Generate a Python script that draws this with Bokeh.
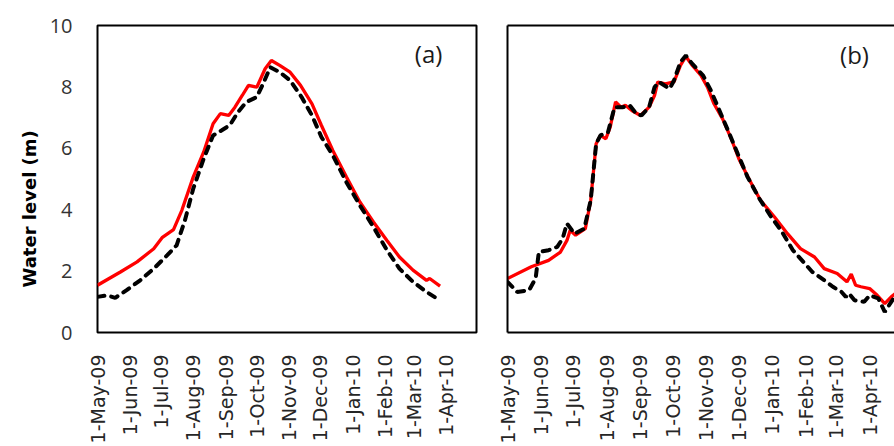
import math
import pandas as pd
from bokeh.plotting import figure
from bokeh.models import Range1d, FixedTicker, LinearAxis, Title, Label
from bokeh.layouts import row
from bokeh.embed import file_html
from bokeh.resources import INLINE

START = "2009-05-01"
END_A = "2010-04-30"

tick_dates = ["2009-05-01", "2009-06-01", "2009-07-01", "2009-08-01", "2009-09-01", "2009-10-01",
              "2009-11-01", "2009-12-01", "2010-01-01", "2010-02-01", "2010-03-01", "2010-04-01"]
tick_labels = ["1-May-09", "1-Jun-09", "1-Jul-09", "1-Aug-09", "1-Sep-09", "1-Oct-09",
               "1-Nov-09", "1-Dec-09", "1-Jan-10", "1-Feb-10", "1-Mar-10", "1-Apr-10"]
y_ticks = [0, 2, 4, 6, 8, 10]

# Panel (a)
a_red_dates = ["2009-05-01", "2009-05-23", "2009-06-08", "2009-06-24", "2009-07-02", "2009-07-13",
               "2009-07-21", "2009-08-01", "2009-08-11", "2009-08-20", "2009-08-27", "2009-09-04",
               "2009-09-10", "2009-09-17", "2009-09-23", "2009-10-01", "2009-10-09", "2009-10-15",
               "2009-10-23", "2009-11-02", "2009-11-12", "2009-11-23", "2009-12-02", "2009-12-13",
               "2009-12-26", "2010-01-08", "2010-01-21", "2010-02-03", "2010-02-15", "2010-02-28",
               "2010-03-13", "2010-03-16", "2010-03-26"]
a_red_level = [1.54, 1.97, 2.30, 2.73, 3.09, 3.35, 3.98, 5.07, 5.88, 6.80, 7.13, 7.07, 7.34, 7.72,
               8.05, 7.99, 8.59, 8.86, 8.70, 8.48, 8.05, 7.45, 6.75, 5.93, 5.07, 4.25, 3.60, 3.00,
               2.46, 2.03, 1.70, 1.76, 1.51]

a_blk_dates = ["2009-05-01", "2009-05-10", "2009-05-18", "2009-05-29", "2009-06-11", "2009-06-24",
               "2009-07-07", "2009-07-16", "2009-07-24", "2009-08-01", "2009-08-11", "2009-08-20",
               "2009-08-28", "2009-09-05", "2009-09-13", "2009-09-21", "2009-10-01", "2009-10-07",
               "2009-10-14", "2009-10-23", "2009-11-02", "2009-11-13", "2009-11-23", "2009-12-02",
               "2009-12-13", "2009-12-26", "2010-01-08", "2010-01-21", "2010-02-03", "2010-02-15",
               "2010-02-28", "2010-03-13", "2010-03-23"]
a_blk_level = [1.16, 1.21, 1.13, 1.38, 1.70, 2.08, 2.52, 2.84, 3.66, 4.69, 5.66, 6.42, 6.58, 6.75,
               7.18, 7.51, 7.67, 8.10, 8.64, 8.48, 8.21, 7.67, 7.07, 6.37, 5.77, 4.90, 4.14, 3.44,
               2.68, 2.08, 1.65, 1.32, 1.11]

# Panel (b)
b_red_dates = ["2009-05-01", "2009-05-23", "2009-06-08", "2009-06-19", "2009-06-25", "2009-06-28",
               "2009-07-03", "2009-07-12", "2009-07-17", "2009-07-22", "2009-07-26", "2009-07-31",
               "2009-08-04", "2009-08-09", "2009-08-14", "2009-08-18", "2009-08-24", "2009-09-01",
               "2009-09-09", "2009-09-14", "2009-09-17", "2009-09-24", "2009-10-02", "2009-10-08",
               "2009-10-13", "2009-10-19", "2009-10-27", "2009-11-02", "2009-11-08", "2009-11-16",
               "2009-11-24", "2009-12-01", "2009-12-11", "2009-12-21", "2010-01-03", "2010-01-15",
               "2010-01-27", "2010-02-09", "2010-02-18", "2010-03-02", "2010-03-11", "2010-03-15",
               "2010-03-19", "2010-03-24", "2010-04-01", "2010-04-08", "2010-04-15", "2010-04-21",
               "2010-04-26"]
b_red_level = [1.76, 2.14, 2.35, 2.62, 3.00, 3.33, 3.17, 3.38, 4.31, 6.15, 6.42, 6.31, 6.69, 7.51,
               7.34, 7.40, 7.23, 7.07, 7.34, 7.72, 8.16, 8.10, 8.16, 8.70, 8.99, 8.70, 8.37, 7.99,
               7.45, 6.96, 6.31, 5.66, 4.96, 4.31, 3.76, 3.22, 2.73, 2.46, 2.08, 1.92, 1.65, 1.90,
               1.54, 1.49, 1.43, 1.21, 0.94, 1.16, 1.30]

b_blk_dates = ["2009-05-01", "2009-05-10", "2009-05-21", "2009-05-27", "2009-05-30", "2009-06-08",
               "2009-06-16", "2009-06-21", "2009-06-25", "2009-07-02", "2009-07-11", "2009-07-17",
               "2009-07-22", "2009-07-26", "2009-08-02", "2009-08-08", "2009-08-16", "2009-08-22",
               "2009-08-28", "2009-09-02", "2009-09-09", "2009-09-14", "2009-09-18", "2009-09-28",
               "2009-10-02", "2009-10-08", "2009-10-13", "2009-10-19", "2009-10-29", "2009-11-05",
               "2009-11-11", "2009-11-21", "2009-11-30", "2009-12-09", "2009-12-20", "2009-12-31",
               "2010-01-09", "2010-01-20", "2010-01-31", "2010-02-07", "2010-02-18", "2010-02-26",
               "2010-03-06", "2010-03-10", "2010-03-13", "2010-03-18", "2010-03-27", "2010-04-01",
               "2010-04-09", "2010-04-15", "2010-04-21", "2010-04-26"]
b_blk_level = [1.65, 1.32, 1.38, 1.76, 2.62, 2.68, 2.79, 3.06, 3.55, 3.22, 3.38, 4.31, 6.15, 6.42,
               6.53, 7.34, 7.34, 7.40, 7.13, 7.07, 7.34, 7.99, 8.16, 7.94, 8.21, 8.81, 9.02, 8.75,
               8.37, 7.89, 7.40, 6.58, 5.82, 5.07, 4.36, 3.76, 3.33, 2.68, 2.25, 1.97, 1.70, 1.49,
               1.32, 1.16, 1.27, 1.05, 1.00, 1.21, 1.11, 0.67, 1.00, 1.25]


def days(ds):
    return [int(v) for v in (pd.to_datetime(ds) - pd.Timestamp(START)).days]


tick_days = days(tick_dates)
overrides = {d: lab for d, lab in zip(tick_days, tick_labels)}
xend_a = days([END_A])[0]
xend_b = 358

RED = "#ff0000"
TXT = "#333333"


def style_xaxis(ax):
    ax.ticker = FixedTicker(ticks=tick_days)
    ax.major_label_overrides = overrides
    ax.major_label_orientation = math.pi / 2
    ax.major_label_text_font = "DejaVu Sans"
    ax.major_label_text_font_size = "19px"
    ax.major_label_text_color = "#262626"
    ax.major_label_standoff = 16
    ax.major_tick_line_color = None
    ax.minor_tick_line_color = None


def base(width, left, right):
    p = figure(width=width, height=446, x_range=Range1d(0, xend_a), y_range=Range1d(0, 10),
               output_backend="svg", toolbar_location=None,
               min_border_left=left, min_border_right=right, min_border_top=25, min_border_bottom=114)
    p.xgrid.visible = False
    p.ygrid.visible = False
    p.background_fill_color = "white"
    p.border_fill_color = "white"
    return p


# ---- panel (a)
p1 = base(490, 97, 14)
style_xaxis(p1.xaxis[0])
p1.xaxis.axis_line_color = None
p1.yaxis.ticker = FixedTicker(ticks=y_ticks)
p1.yaxis.axis_line_color = None
p1.yaxis.major_tick_line_color = None
p1.yaxis.minor_tick_line_color = None
p1.yaxis.major_label_standoff = 19
p1.yaxis.major_label_text_font = "Open Sans"
p1.yaxis.major_label_text_font_size = "20px"
p1.yaxis.major_label_text_color = TXT
p1.outline_line_color = "black"
p1.outline_line_width = 2
p1.outline_line_alpha = 1

p1.line(days(a_red_dates), a_red_level, line_color=RED, line_width=3.3)
p1.line(days(a_blk_dates), a_blk_level, line_color="black", line_width=4,
        line_dash="7 7", line_cap="round")
p1.add_layout(Label(x=318, y=9.1, text="(a)", text_align="center", text_baseline="middle",
                    text_font="Open Sans", text_font_size="24px", text_color="#1a1a1a"))
p1.add_layout(Title(text="Water level (m)", align="left", offset=45, text_font="DejaVu Sans",
                    text_font_size="18px", text_font_style="bold", text_color="black",
                    standoff=14), "left")

# ---- panel (b)
p2 = base(404, 17, 0)
p2.x_range = Range1d(0, xend_b)
style_xaxis(p2.xaxis[0])
p2.xaxis.axis_line_color = "black"
p2.xaxis.axis_line_width = 2
p2.yaxis.ticker = FixedTicker(ticks=[])
p2.yaxis.axis_line_color = "black"
p2.yaxis.axis_line_width = 2
p2.yaxis.major_tick_line_color = None
p2.yaxis.minor_tick_line_color = None
p2.yaxis.major_label_standoff = 0
top = LinearAxis(ticker=FixedTicker(ticks=[]), axis_line_color="black", axis_line_width=2,
                 major_tick_line_color=None, minor_tick_line_color=None, major_label_standoff=0)
p2.add_layout(top, "above")
p2.outline_line_color = None

p2.line(days(b_red_dates), b_red_level, line_color=RED, line_width=3.3)
p2.line(days(b_blk_dates), b_blk_level, line_color="black", line_width=4,
        line_dash="7 7", line_cap="round")
p2.add_layout(Label(x=321, y=9.05, text="(b)", text_align="center", text_baseline="middle",
                    text_font="Open Sans", text_font_size="24px", text_color="#1a1a1a"))

layout = row(p1, p2)
open("out.html", "w").write(file_html(layout, INLINE))
